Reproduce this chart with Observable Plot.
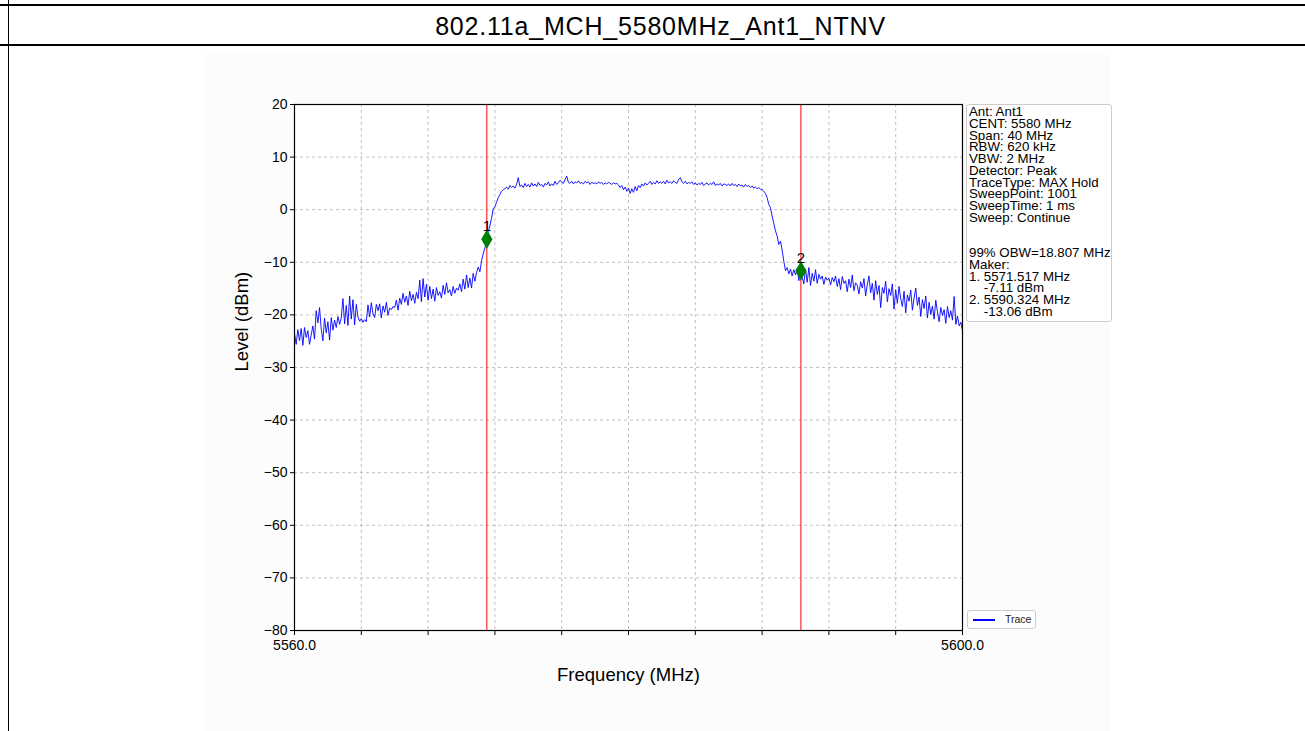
<!DOCTYPE html>
<html>
<head>
<meta charset="utf-8">
<script src="https://cdn.jsdelivr.net/npm/d3@7"></script>
<script src="https://cdn.jsdelivr.net/npm/@observablehq/plot@0.6"></script>
<style>
  html, body { margin: 0; padding: 0; background: #ffffff; }
  #page { position: relative; width: 1305px; height: 731px; overflow: hidden; font-family: "Liberation Sans", Arial, sans-serif; }
  .hline { position: absolute; left: 0; width: 1305px; height: 2px; background: #000; }
  .vline { position: absolute; left: 8px; top: 0; width: 1px; height: 731px; background: #000; }
  #title { position: absolute; left: 12px; width: 1297px; top: 6px; height: 38px; line-height: 40px; text-align: center; font-size: 25px; letter-spacing: 0.8px; color: #000; }
  #figbg { position: absolute; left: 205px; top: 54px; width: 905px; height: 677px; background: #fcfcfc; }
  #chart { position: absolute; left: 0; top: 50px; }
  #info { position: absolute; left: 966px; top: 104px; width: 146px; height: 218px; box-sizing: border-box; border: 1px solid #cccccc; border-radius: 3px; background: #ffffff; padding: 1px 0 0 2px; font-size: 13.3px; line-height: 11.75px; color: #000; white-space: pre; }
  #legend { position: absolute; left: 967px; top: 610px; width: 69px; height: 19px; box-sizing: border-box; border: 1px solid #cccccc; border-radius: 3px; background: #ffffff; font-size: 10.5px; color: #222; }
  #legend .sw { position: absolute; left: 5px; top: 8px; width: 22px; height: 1.5px; background: #0000ff; }
  #legend .lb { position: absolute; left: 37px; top: 2px; }
</style>
</head>
<body>
<div id="page">
  <div id="figbg"></div>
  <div class="hline" style="top:4px"></div>
  <div class="hline" style="top:44px"></div>
  <div class="vline"></div>
  <div id="title"></div>
  <div id="chart"></div>
  <div id="info"></div>
  <div id="legend"><div class="sw"></div><div class="lb"></div></div>
</div>
<script>
// ---------- data ----------
const titleText = "802.11a_MCH_5580MHz_Ant1_NTNV";
const xLabel = "Frequency (MHz)";
const yLabel = "Level (dBm)";
const legendLabel = "Trace";

const sweepStart = 5560;   // MHz
const sweepStep = 0.1;     // MHz between read-off points
const xTicks = [5560, 5564, 5568, 5572, 5576, 5580, 5584, 5588, 5592, 5596, 5600];
const xTickLabels = ["5560.0", "", "", "", "", "", "", "", "", "", "5600.0"];
const yTicks = [20, 10, 0, -10, -20, -30, -40, -50, -60, -70, -80];

// trace level (dBm), one value per 0.1 MHz from 5560.0 to 5600.0
const traceLevels = [
  -23.5, -25.6, -22.8, -24.9, -22.6, -25.8, -22.4, -24.3, -23.0, -25.6, -23.8, -22.1, -24.6, -19.2, -21.5, -18.6, -22.7, -24.9, -20.6, -23.4,
  -21.3, -24.8, -20.5, -22.9, -21.0, -22.4, -20.3, -21.8, -20.6, -16.9, -21.7, -18.2, -22.0, -16.4, -20.8, -17.1, -21.9, -18.0, -20.4, -21.2,
  -20.7, -21.4, -20.9, -21.3, -18.1, -20.4, -17.7, -19.8, -20.5, -18.0, -19.2, -17.9, -20.6, -18.3, -19.5, -17.6, -20.1, -18.7, -19.0, -18.4,
  -18.6, -17.2, -19.1, -16.8, -18.0, -15.9, -17.6, -16.4, -18.2, -15.5, -17.3, -16.1, -17.8, -15.7, -16.9, -13.4, -17.5, -13.1, -16.6, -14.2,
  -17.2, -14.6, -16.9, -15.1, -17.4, -14.8, -16.3, -15.6, -16.8, -14.4, -16.1, -13.9, -15.8, -15.2, -16.4, -14.6, -15.9, -14.9, -15.3, -14.1,
  -15.6, -13.2, -15.1, -12.4, -14.8, -13.0, -14.9, -12.1, -13.6, -12.0, -10.9, -11.8, -9.7, -8.4, -7.3, -5.8, -4.2, -3.1, -1.6, 0.1,
  0.6, 1.4, 2.3, 2.9, 3.5, 3.8, 4.0, 4.3, 3.9, 4.6, 4.2, 4.5, 4.1, 4.8, 6.1, 4.4, 4.7, 4.2, 5.0, 4.4,
  4.8, 4.3, 5.1, 4.5, 4.9, 4.4, 5.2, 4.6, 4.8, 4.3, 5.0, 4.7, 5.3, 4.5, 4.9, 4.6, 5.4, 4.8, 5.1, 5.6,
  5.3, 5.0, 5.7, 6.4, 5.2, 5.0, 5.4, 4.9, 5.3, 5.1, 5.5, 5.0, 5.2, 4.9, 5.4, 5.1, 5.3, 4.8, 5.2, 5.0,
  5.1, 4.9, 5.3, 5.0, 5.2, 4.8, 5.1, 4.9, 5.2, 5.0, 4.8, 5.1, 4.9, 5.0, 4.7, 4.2, 4.6, 3.8, 4.3, 3.5,
  4.1, 3.1, 4.0, 3.3, 4.4, 3.6, 4.6, 4.2, 4.9, 4.5, 5.1, 4.7, 5.0, 5.4, 4.8, 5.2, 4.9, 5.5, 5.0, 5.3,
  5.0, 5.4, 4.9, 5.6, 5.1, 5.3, 5.0, 5.5, 5.2, 5.0, 5.7, 6.1, 5.3, 5.0, 5.4, 4.9, 5.2, 5.0, 5.3, 4.8,
  5.1, 4.7, 5.0, 4.8, 5.2, 4.6, 4.9, 5.1, 4.7, 5.0, 4.8, 5.3, 4.6, 4.9, 4.7, 5.0, 4.5, 4.9, 4.8, 4.6,
  4.9, 4.5, 5.0, 4.6, 4.8, 4.4, 4.9, 4.5, 4.7, 4.3, 4.8, 4.4, 4.6, 4.2, 4.5, 4.1, 4.3, 4.0, 4.2, 3.9,
  3.8, 3.5, 3.1, 2.3, 1.0, 0.4, -1.2, -2.6, -4.0, -5.0, -6.6, -6.0, -7.7, -9.8, -11.6, -11.0, -12.2, -11.3, -12.6, -11.4,
  -12.4, -11.2, -13.5, -11.6, -12.9, -14.1, -11.3, -13.8, -11.0, -14.4, -12.1, -13.6, -11.4, -14.0, -12.3, -13.2, -12.6, -14.2, -12.8, -13.4,
  -13.0, -14.3, -12.9, -13.7, -12.6, -14.6, -13.1, -15.2, -12.7, -14.0, -13.5, -15.6, -13.2, -14.8, -12.4, -15.4, -13.9, -14.4, -16.0, -13.7,
  -14.9, -13.1, -16.4, -14.2, -12.6, -15.8, -14.0, -17.2, -13.5, -16.1, -14.4, -18.6, -14.8, -15.9, -13.6, -17.5, -15.0, -16.3, -14.1, -18.9,
  -15.2, -17.8, -14.6, -16.9, -18.4, -15.5, -19.6, -16.2, -17.4, -15.3, -19.1, -16.8, -14.9, -18.2, -16.6, -20.3, -17.1, -18.8, -16.4, -20.6,
  -17.6, -19.9, -18.3, -20.8, -17.2, -19.4, -21.3, -18.6, -20.1, -19.0, -21.6, -18.4, -20.5, -19.2, -21.0, -16.5, -21.8, -20.2, -22.1, -21.4,
  -23.0
];

// markers
const markerFreqs = [5571.517, 5590.324];
const markerLevels = [-5.6, -11.6];      // drawn position
const markerNames = ["1", "2"];

// info box lines
const infoLines = [
  "Ant: Ant1",
  "CENT: 5580 MHz",
  "Span: 40 MHz",
  "RBW: 620 kHz",
  "VBW: 2 MHz",
  "Detector: Peak",
  "TraceType: MAX Hold",
  "SweepPoint: 1001",
  "SweepTime: 1 ms",
  "Sweep: Continue",
  "",
  "",
  "99% OBW=18.807 MHz",
  "Maker:",
  "1. 5571.517 MHz",
  "    -7.11 dBm",
  "2. 5590.324 MHz",
  "    -13.06 dBm"
];

// ---------- build ----------
document.getElementById("title").textContent = titleText;
document.getElementById("info").textContent = infoLines.join("\n");
document.querySelector("#legend .lb").textContent = legendLabel;

const trace = traceLevels.map((v, i) => ({ f: sweepStart + i * sweepStep, v }));
const markers = markerFreqs.map((f, i) => ({ f, v: markerLevels[i], name: markerNames[i] }));
const fmtY = d => (d < 0 ? "\u2212" + Math.abs(d) : String(d));
const fmtX = d => xTickLabels[xTicks.indexOf(d)] ?? "";

const chart = Plot.plot({
  width: 1305,
  height: 681,
  marginLeft: 294,
  marginRight: 343,
  marginTop: 54,
  marginBottom: 101,
  style: { fontFamily: "'Liberation Sans', Arial, sans-serif", fontSize: "13px", background: "transparent", color: "#000" },
  x: { domain: [5560, 5600] },
  y: { domain: [-80, 20] },
  marks: [
    Plot.frame({ fill: "#ffffff", stroke: null }),
    Plot.gridX(xTicks, { stroke: "#b0b0b0", strokeOpacity: 1, strokeDasharray: "3,3", strokeWidth: 0.8 }),
    Plot.gridY(yTicks, { stroke: "#b0b0b0", strokeOpacity: 1, strokeDasharray: "3,3", strokeWidth: 0.8 }),
    Plot.ruleX(markers, { x: "f", stroke: "#ff0000", strokeWidth: 1 }),
    Plot.line(trace, { x: "f", y: "v", stroke: "#0000ff", strokeWidth: 0.9 }),
    Plot.dot(markers, { x: "f", y: "v", symbol: "diamond", fill: "#008000", stroke: "#008000", r: 5 }),
    Plot.text(markers, { x: "f", y: "v", text: "name", dy: -13, fontSize: 15, fill: "#000" }),
    Plot.frame({ stroke: "#000", strokeWidth: 1.2 }),
    Plot.axisX(xTicks, { tickFormat: fmtX, tickSize: 5, tickPadding: 5, label: null, fontSize: 14 }),
    Plot.axisY(yTicks, { tickFormat: fmtY, tickSize: 4, tickPadding: 3, label: null, fontSize: 14 }),
    Plot.text([yLabel], { frameAnchor: "left", dx: -52, dy: 4, rotate: -90, fontSize: 18.5, fill: "#000" }),
    Plot.text([xLabel], { frameAnchor: "bottom", dy: 50, fontSize: 18.5, fill: "#000" })
  ]
});
document.getElementById("chart").appendChild(chart);
</script>
</body>
</html>
